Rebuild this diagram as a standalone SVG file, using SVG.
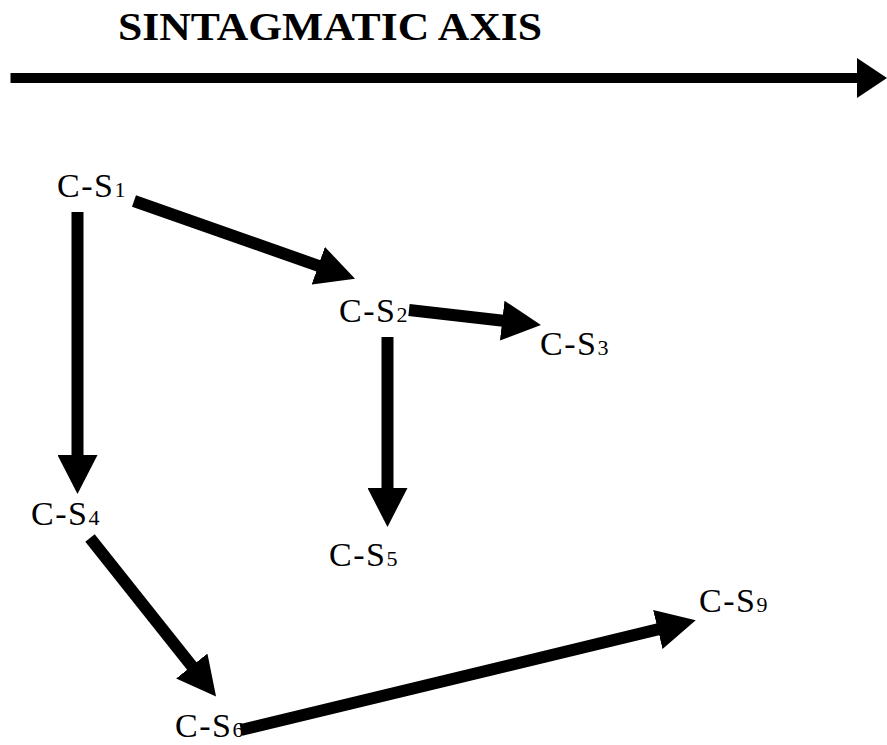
<svg xmlns="http://www.w3.org/2000/svg" width="887" height="745" viewBox="0 0 887 745">
<style>
.lbl{font-family:"Liberation Serif","Times New Roman",serif;font-size:34px;letter-spacing:1.5px;fill:#000}
.sub{font-size:22px;letter-spacing:0}
.title{font-family:"Liberation Serif","Times New Roman",serif;font-size:40px;font-weight:bold;fill:#000}
.arr{stroke:#000;stroke-width:12;fill:none;stroke-linecap:butt;marker-end:url(#head)}
</style>
<defs>
<marker id="head" viewBox="0 0 39 40" refX="1" refY="20" markerWidth="39" markerHeight="40" markerUnits="userSpaceOnUse" orient="auto">
<path d="M0,0 L39,20 L0,40 z" fill="#000"/>
</marker>
</defs>
<rect width="887" height="745" fill="#fff"/>
<g id="axis">
<text class="title" x="118" y="40" textLength="424" lengthAdjust="spacingAndGlyphs">SINTAGMATIC AXIS</text>
<line x1="10.5" y1="78" x2="858" y2="78" stroke="#000" stroke-width="10"/>
<polygon points="857,58 887,78 857,98" fill="#000"/>
</g>
<g id="connectors">
<line class="arr" x1="134" y1="201" x2="319.2" y2="266.1"/>
<line class="arr" x1="77.5" y1="212" x2="77.5" y2="456"/>
<line class="arr" x1="409" y1="310" x2="503.2" y2="320.7"/>
<line class="arr" x1="387.5" y1="337" x2="387.5" y2="489"/>
<line class="arr" x1="90" y1="538" x2="192.4" y2="666.8"/>
<line class="arr" x1="241" y1="730" x2="658.8" y2="629.2"/>
</g>
<g id="cs1"><text class="lbl" x="57" y="197">C-S<tspan class="sub">1</tspan></text></g>
<g id="cs2"><text class="lbl" x="339" y="322">C-S<tspan class="sub">2</tspan></text></g>
<g id="cs3"><text class="lbl" x="540" y="355">C-S<tspan class="sub">3</tspan></text></g>
<g id="cs4"><text class="lbl" x="31" y="525">C-S<tspan class="sub">4</tspan></text></g>
<g id="cs5"><text class="lbl" x="329" y="566">C-S<tspan class="sub">5</tspan></text></g>
<g id="cs6"><text class="lbl" x="175" y="737">C-S<tspan class="sub">6</tspan></text></g>
<g id="cs9"><text class="lbl" x="699" y="612">C-S<tspan class="sub">9</tspan></text></g>
</svg>
